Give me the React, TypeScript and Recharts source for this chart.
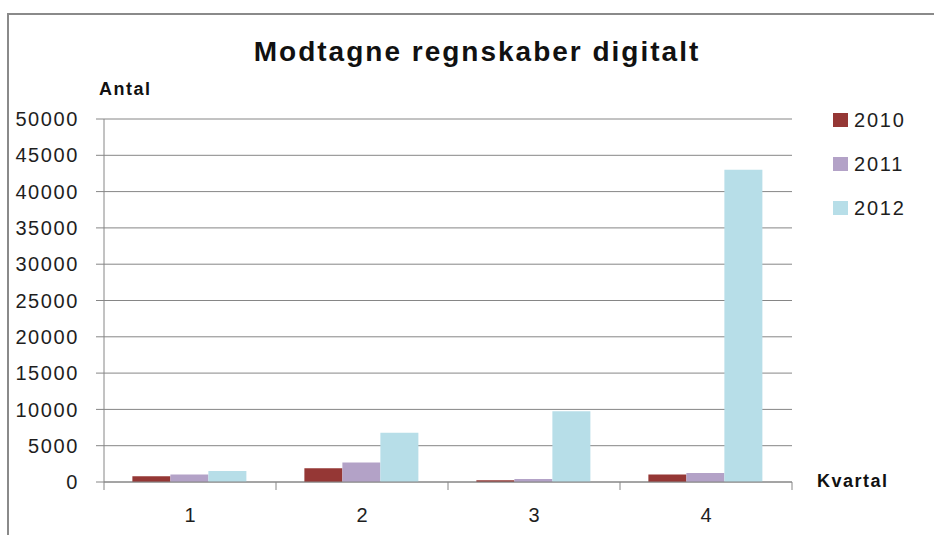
import { BarChart, Bar, XAxis, YAxis, CartesianGrid } from "recharts";

const quarters = ["1", "2", "3", "4"];
const values2010 = [800, 1900, 250, 1050];
const values2011 = [1050, 2700, 400, 1250];
const values2012 = [1500, 6800, 9750, 43000];
const yTicks = [0, 5000, 10000, 15000, 20000, 25000, 30000, 35000, 40000, 45000, 50000];

const series = [
  { key: "y2010", name: "2010", color: "#953735" },
  { key: "y2011", name: "2011", color: "#B3A2C7" },
  { key: "y2012", name: "2012", color: "#B7DEE8" },
];

const data = quarters.map((q, i) => ({
  q,
  y2010: values2010[i],
  y2011: values2011[i],
  y2012: values2012[i],
}));

const W = 934;
const H = 535;
const X_AXIS_H = 30;
const M = { top: 119, right: 142, bottom: 53 - X_AXIS_H, left: 0 };
const Y_AXIS_W = 104;
const BAND = (W - M.left - Y_AXIS_W - M.right) / quarters.length;
const FONT = "'Liberation Sans', Arial, sans-serif";
const AXIS = "#868686";
const TEXT = "#1e1e1e";

function XTick({ x, y, payload, index }: any) {
  const half = BAND / 2;
  const top = y - 8;
  return (
    <g>
      <line x1={x - half} x2={x - half} y1={top} y2={top + 8} stroke={AXIS} />
      {index === quarters.length - 1 && (
        <line x1={x + half} x2={x + half} y1={top} y2={top + 8} stroke={AXIS} />
      )}
      <text x={x} y={top + 40} textAnchor="middle" fontSize={20} fill={TEXT} fontFamily={FONT}>
        {payload.value}
      </text>
    </g>
  );
}

function LegendBox() {
  return (
    <div style={{ position: "absolute", left: 833, top: 98, fontFamily: FONT }}>
      {series.map((s) => (
        <div key={s.key} style={{ display: "flex", alignItems: "center", height: 44 }}>
          <span style={{ width: 15, height: 14, background: s.color, display: "inline-block", marginRight: 6 }} />
          <span style={{ fontSize: 20, color: TEXT, letterSpacing: 1.8 }}>{s.name}</span>
        </div>
      ))}
    </div>
  );
}

export default function App() {
  return (
    <div style={{ position: "absolute", left: 0, top: 0, width: W, height: H, background: "#fff", overflow: "hidden" }}>
      <div
        style={{
          position: "absolute",
          left: 7,
          top: 13,
          width: W,
          height: H,
          borderLeft: "2px solid #8a8a8a",
          borderTop: "2px solid #8a8a8a",
        }}
      />
      <div
        style={{
          position: "absolute",
          left: 0,
          width: 954,
          top: 36,
          textAlign: "center",
          fontFamily: FONT,
          fontWeight: "bold",
          fontSize: 28,
          letterSpacing: 2,
          color: "#111",
        }}
      >
        Modtagne regnskaber digitalt
      </div>
      <div style={{ position: "absolute", left: 99, top: 79, fontFamily: FONT, fontWeight: "bold", fontSize: 18, letterSpacing: 1.5, color: "#111" }}>
        Antal
      </div>
      <div style={{ position: "absolute", left: 817, top: 471, fontFamily: FONT, fontWeight: "bold", fontSize: 18, letterSpacing: 1.5, color: "#111" }}>
        Kvartal
      </div>
      <LegendBox />
      <div style={{ position: "absolute", left: 0, top: 0 }}>
        <BarChart width={W} height={H} data={data} margin={M} barCategoryGap="16.5%" barGap={0}>
          <CartesianGrid vertical={false} stroke={AXIS} strokeWidth={1} />
          <XAxis
            dataKey="q"
            height={X_AXIS_H}
            axisLine={{ stroke: AXIS }}
            tickLine={false}
            tick={<XTick />}
            interval={0}
          />
          <YAxis
            width={Y_AXIS_W}
            domain={[0, 50000]}
            ticks={yTicks}
            interval={0}
            axisLine={{ stroke: AXIS }}
            tickLine={{ stroke: AXIS }}
            tickSize={8}
            tickMargin={17}
            tick={{ fontSize: 20, fill: TEXT, fontFamily: FONT, letterSpacing: 1.6 }}
          />
          {series.map((s) => (
            <Bar key={s.key} dataKey={s.key} name={s.name} fill={s.color} isAnimationActive={false} />
          ))}
        </BarChart>
      </div>
    </div>
  );
}
